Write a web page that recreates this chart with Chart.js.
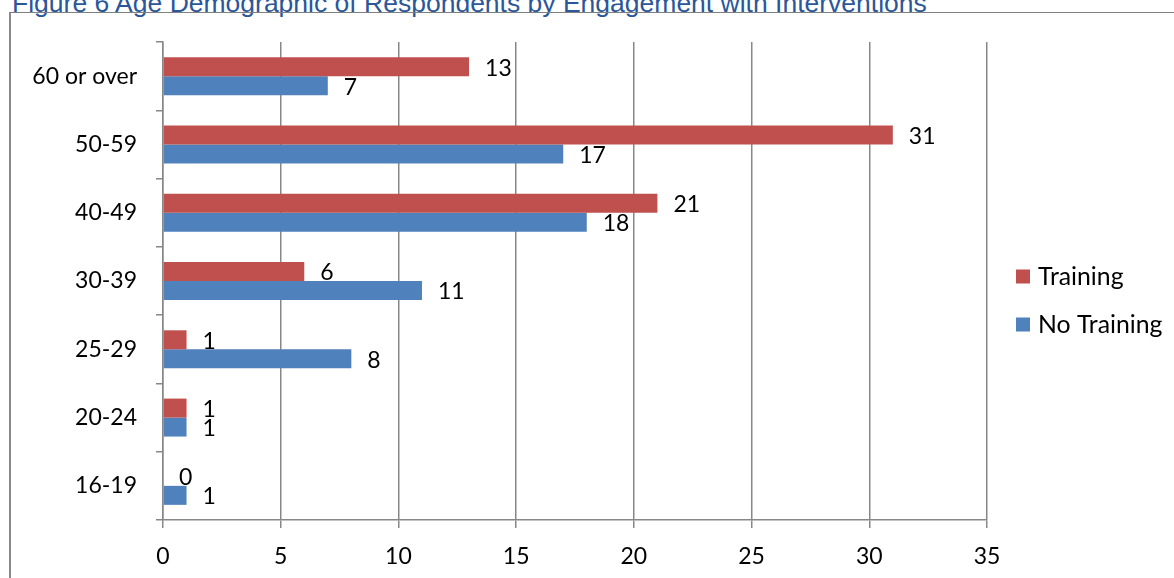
<!DOCTYPE html>
<html>
<head>
<meta charset="utf-8">
<script src="https://cdn.jsdelivr.net/npm/chart.js@4.4.1/dist/chart.umd.min.js"></script>
<style>
html,body{margin:0;padding:0;background:#fff;width:1174px;height:578px;overflow:hidden;}
#title{position:absolute;left:12px;top:-10px;font-family:"Liberation Sans",Arial,sans-serif;font-size:26.5px;line-height:1;color:#2B579A;white-space:nowrap;}
#frame{position:absolute;left:9px;top:12px;width:1200px;height:620px;border-left:2px solid #8a8a8a;border-top:1px solid #808080;}
#wrap{position:absolute;left:0;top:0;width:1174px;height:578px;}
</style>
</head>
<body>
<div id="title">Figure 6 Age Demographic of Respondents by Engagement with Interventions</div>
<div id="frame"></div>
<div id="wrap"><canvas id="c" width="1174" height="578"></canvas></div>
<script>
const categories = ['60 or over', '50-59', '40-49', '30-39', '25-29', '20-24', '16-19'];
const training = [13, 31, 21, 6, 1, 1, 0];
const noTraining = [7, 17, 18, 11, 8, 1, 1];
const seriesNames = ['Training', 'No Training'];
const seriesColors = ['#C0504D', '#4F81BD'];
const xMin = 0, xMax = 35, xStep = 5;

const FONT = 'Lato, "Open Sans", sans-serif';
const gridColor = '#878787';

const valueLabels = {
  id: 'valueLabels',
  afterDatasetsDraw(chart) {
    const ctx = chart.ctx;
    ctx.save();
    ctx.font = '23px ' + FONT;
    ctx.fillStyle = '#000';
    ctx.textAlign = 'left';
    ctx.textBaseline = 'middle';
    chart.data.datasets.forEach((ds, i) => {
      chart.getDatasetMeta(i).data.forEach((bar, j) => {
        ctx.fillText(String(ds.data[j]), bar.x + 16, bar.y + 1.5);
      });
    });
    ctx.restore();
  }
};

const sideLegend = {
  id: 'sideLegend',
  afterDraw(chart) {
    const ctx = chart.ctx;
    const x0 = chart.chartArea.right + 29;
    const y0 = 276.5, gap = 48, box = 14;
    ctx.save();
    ctx.font = '24.8px ' + FONT;
    ctx.textAlign = 'left';
    ctx.textBaseline = 'middle';
    chart.data.datasets.forEach((ds, i) => {
      const cy = y0 + i * gap;
      ctx.fillStyle = ds.backgroundColor;
      ctx.fillRect(x0, cy - box / 2, box, box);
      ctx.fillStyle = '#000';
      ctx.fillText(ds.label, x0 + box + 8, cy + 1);
    });
    ctx.restore();
  }
};

new Chart(document.getElementById('c'), {
  type: 'bar',
  data: {
    labels: categories,
    datasets: [
      { label: seriesNames[0], data: training, backgroundColor: seriesColors[0], borderWidth: 0, categoryPercentage: 0.556, barPercentage: 1 },
      { label: seriesNames[1], data: noTraining, backgroundColor: seriesColors[1], borderWidth: 0, categoryPercentage: 0.556, barPercentage: 1 }
    ]
  },
  options: {
    indexAxis: 'y',
    responsive: false,
    animation: false,
    layout: { padding: { top: 42, right: 187, bottom: 0, left: 0 } },
    plugins: { legend: { display: false }, tooltip: { enabled: false } },
    scales: {
      x: {
        min: xMin, max: xMax,
        ticks: { stepSize: xStep, color: '#000', font: { family: FONT, size: 23 }, padding: 15 },
        grid: { color: gridColor, lineWidth: 1.5, tickLength: 8 },
        border: { color: gridColor, width: 1.5 },
        afterFit(s) { s.height = 58; }
      },
      y: {
        ticks: { color: '#000', font: { family: FONT, size: 23 }, padding: 19 },
        grid: { offset: true, drawOnChartArea: false, tickLength: 7, color: gridColor, lineWidth: 1.5 },
        border: { color: gridColor, width: 1.5 },
        afterFit(s) { s.width = 163; }
      }
    }
  },
  plugins: [valueLabels, sideLegend]
});
</script>
</body>
</html>
